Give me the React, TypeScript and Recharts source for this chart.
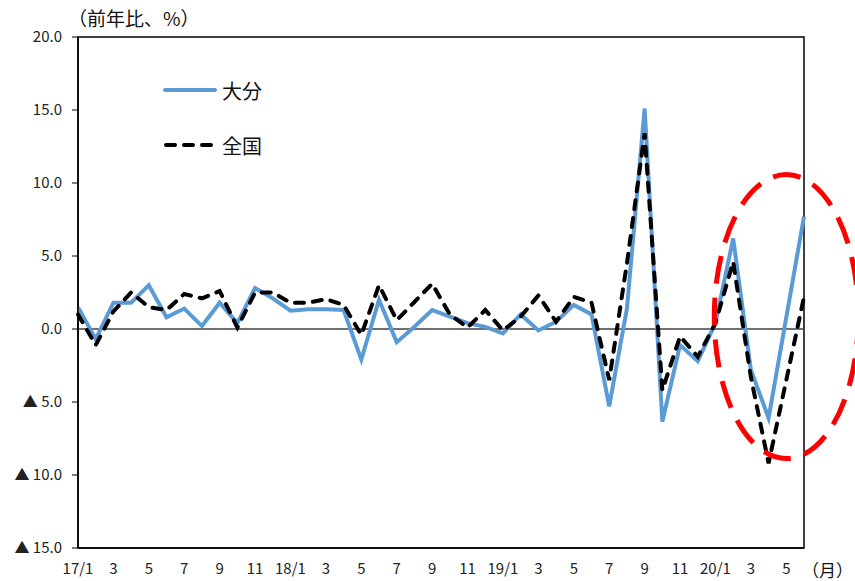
import { LineChart, Line, XAxis, YAxis, ReferenceLine, ReferenceArea, ReferenceDot } from 'recharts';

const months = [
  '17/1', '17/2', '17/3', '17/4', '17/5', '17/6', '17/7', '17/8', '17/9', '17/10', '17/11', '17/12',
  '18/1', '18/2', '18/3', '18/4', '18/5', '18/6', '18/7', '18/8', '18/9', '18/10', '18/11', '18/12',
  '19/1', '19/2', '19/3', '19/4', '19/5', '19/6', '19/7', '19/8', '19/9', '19/10', '19/11', '19/12',
  '20/1', '20/2', '20/3', '20/4', '20/5', '20/6',
];

// 大分
const oita = [
  1.5, -0.7, 1.8, 1.8, 3.0, 0.8, 1.4, 0.2, 1.8, 0.4, 2.8, 2.1,
  1.25, 1.35, 1.35, 1.3, -2.1, 2.0, -0.9, 0.15, 1.3, 0.85, 0.4, 0.15,
  -0.3, 1.0, -0.1, 0.5, 1.65, 1.0, -5.3, 1.4, 15.1, -6.35, -1.1, -2.2,
  0.4, 6.2, -2.8, -6.1, 0.8, 7.7,
];

// 全国
const zenkoku = [
  1.0, -1.1, 1.2, 2.5, 1.5, 1.3, 2.4, 2.1, 2.6, 0.1, 2.5, 2.5,
  1.8, 1.8, 2.05, 1.65, -0.4, 3.0, 0.6, 1.85, 3.1, 1.0, 0.1, 1.3,
  -0.1, 0.85, 2.3, 0.5, 2.2, 1.8, -3.5, 4.5, 13.4, -4.2, -0.5, -1.9,
  0.4, 4.6, -3.3, -9.2, -3.5, 2.2,
];

const yTicks = [-15, -10, -5, 0, 5, 10, 15, 20];

const data = months.map((m, i) => ({ month: m, oita: oita[i], zenkoku: zenkoku[i] }));

const FONT = '"Noto Sans CJK JP", "Noto Sans", sans-serif';
const BLUE = '#5B9BD5';

const fmtY = (v: number) => (v < 0 ? `▲ ${Math.abs(v).toFixed(1)}` : v.toFixed(1));
const fmtX = (m: string) => (m.endsWith('/1') ? m : m.split('/')[1]);

function LegendBox() {
  return (
    <div style={{ position: 'absolute', left: 162, top: 75, fontFamily: FONT, fontSize: 20, color: '#111' }}>
      <div style={{ display: 'flex', alignItems: 'center', height: 30 }}>
        <svg width={60} height={10}>
          <line x1={3} y1={5} x2={53} y2={5} stroke={BLUE} strokeWidth={4} strokeLinecap="round" />
        </svg>
        <span>大分</span>
      </div>
      <div style={{ display: 'flex', alignItems: 'center', height: 30, marginTop: 25 }}>
        <svg width={60} height={10}>
          <line x1={4} y1={5} x2={51} y2={5} stroke="#000" strokeWidth={4} strokeLinecap="round" strokeDasharray="9 9" />
        </svg>
        <span>全国</span>
      </div>
    </div>
  );
}

export default function App() {
  return (
    <div style={{ position: 'absolute', left: 0, top: 0, width: 855, height: 581, background: '#fff', fontFamily: FONT, overflow: 'hidden' }}>
      <LineChart width={855} height={581} data={data} margin={{ top: 37, right: 51, bottom: 0, left: 0 }}>
        <ReferenceArea x1="17/1" x2="20/6" y1={-15} y2={20} fill="none" stroke="#000" strokeWidth={1.5} />
        <XAxis
          dataKey="month"
          interval={1}
          tickFormatter={fmtX}
          tickLine={false}
          tickMargin={9}
          height={33}
          axisLine={{ stroke: '#000', strokeWidth: 1.5 }}
          tick={{ fontSize: 15, fill: '#222', fontFamily: FONT }}
        />
        <YAxis
          domain={[-15, 20]}
          ticks={yTicks}
          tickFormatter={fmtY}
          width={78}
          tickSize={6}
          tickMargin={10}
          axisLine={{ stroke: '#000', strokeWidth: 1.5 }}
          tickLine={{ stroke: '#000' }}
          tick={{ fontSize: 15, fill: '#222', fontFamily: FONT }}
        />
        <ReferenceLine y={0} stroke="#404040" strokeWidth={1.5} />
        <Line dataKey="oita" name="大分" stroke={BLUE} strokeWidth={4} dot={false} isAnimationActive={false} />
        <Line
          dataKey="zenkoku"
          name="全国"
          stroke="#000"
          strokeWidth={4}
          strokeDasharray="9 9"
          strokeLinecap="round"
          dot={false}
          isAnimationActive={false}
        />
        <ReferenceDot
          x="20/5"
          y={0.85}
          ifOverflow="visible"
          shape={(p: any) => (
            <ellipse cx={p.cx} cy={p.cy} rx={72} ry={142} fill="none" stroke="#FF0000" strokeWidth={5} strokeDasharray="28 14" />
          )}
        />
      </LineChart>
      <LegendBox />
      <div style={{ position: 'absolute', left: 68, top: 4, fontSize: 19, color: '#111', whiteSpace: 'nowrap' }}>（前年比、%）</div>
      <div style={{ position: 'absolute', right: 2, top: 560, fontSize: 17, lineHeight: '20px', color: '#111', whiteSpace: 'nowrap' }}>（月）</div>
    </div>
  );
}
